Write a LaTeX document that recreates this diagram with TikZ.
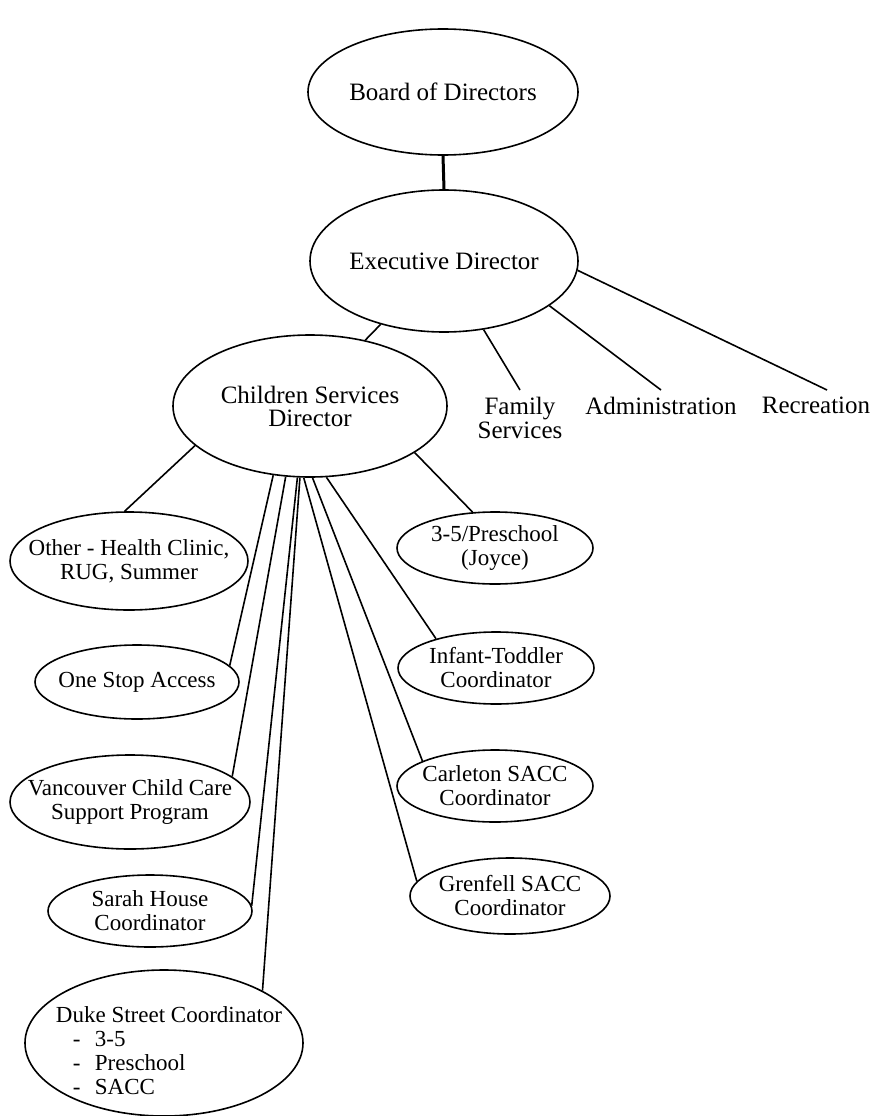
\documentclass[tikz,border=0pt]{standalone}
\usepackage{fontspec}
\setmainfont{Liberation Serif}
\usetikzlibrary{shapes.geometric}
\begin{document}
\begin{tikzpicture}[x=1pt,y=-1pt,
  oval/.style={ellipse,draw,line width=1.6pt,inner sep=0pt},
  big/.style={font=\fontsize{25}{23}\selectfont,align=center,inner sep=0pt},
  small/.style={font=\fontsize{23}{24}\selectfont,align=center,inner sep=0pt},
  link/.style={line width=1.6pt},
  unit/.style={font=\fontsize{25}{24}\selectfont,align=center,inner sep=0pt,outer sep=7pt,anchor=north}]
\useasboundingbox (0,0) rectangle (872,1116);
% top levels
\node[oval,minimum width=270pt,minimum height=126pt,label={[big]center:Board of Directors}] (board) at (443,92) {};
\node[oval,minimum width=268pt,minimum height=142pt,label={[big]center:Executive Director}] (exec) at (444,261) {};
\node[oval,minimum width=274pt,minimum height=142pt,label={[big]center:{Children Services\\Director}}] (csd) at (310,406) {};
% units under executive director
\node[unit] (fam) at (520,390) {Family\\Services};
\node[unit] (adm) at (661,390) {Administration};
\node[unit] (rec) at (816,390) {Recreation};
% programs
\node[oval,minimum width=238pt,minimum height=98pt,label={[small]center:{Other - Health Clinic,\\RUG, Summer}}] (other) at (129,561) {};
\node[oval,minimum width=204pt,minimum height=74pt,label={[small]center:One Stop Access}] (onestop) at (137,682) {};
\node[oval,minimum width=240pt,minimum height=94pt,label={[small]center:{Vancouver Child Care\\Support Program}}] (vanc) at (130,802) {};
\node[oval,minimum width=204pt,minimum height=72pt,label={[small]center:{Sarah House\\Coordinator}}] (sarah) at (150,911) {};
\node[oval,minimum width=278pt,minimum height=146pt,label={[small,align=left,xshift=5pt,yshift=-8pt]center:{Duke Street Coordinator\\\hspace*{17pt}\makebox[22pt][l]{-}3-5\\\hspace*{17pt}\makebox[22pt][l]{-}Preschool\\\hspace*{17pt}\makebox[22pt][l]{-}SACC}}] (duke) at (164,1043) {};
\node[oval,minimum width=196pt,minimum height=72pt,label={[small]center:{3-5/Preschool\\(Joyce)}}] (pre) at (495,548) {};
\node[oval,minimum width=196pt,minimum height=72pt,label={[small]center:{Infant-Toddler\\Coordinator}}] (inf) at (496,668) {};
\node[oval,minimum width=196pt,minimum height=72pt,label={[small]center:{Carleton SACC\\Coordinator}}] (carl) at (495,786) {};
\node[oval,minimum width=200pt,minimum height=76pt,label={[small]center:{Grenfell SACC\\Coordinator}}] (gren) at (510,896) {};
% connectors
\draw[line width=3pt] (board.south) -- (exec.north);
\draw[link] (exec.-135) -- (csd.50);
\draw[link] (exec.-60.5) -- (fam.north);
\draw[link] (exec.-23) -- (adm.north);
\draw[link] (exec.-4.7) -- ([xshift=11pt]rec.north);
\draw[link] (csd.-161.6) -- (other.95);
\draw[link] (csd.-24.7) -- (pre.122.6);
\draw[link] (csd.-118.2) -- (onestop.10);
\draw[link] (csd.-109.7) -- (vanc.14);
\draw[link] (csd.-100.4) -- (sarah.3.4);
\draw[link] (csd.-98) -- (duke.28.2);
\draw[link] (csd.-95.6) -- (gren.171.9);
\draw[link] (csd.-88.4) -- (carl.161.6);
\draw[link] (csd.-77.9) -- (inf.154.2);
\end{tikzpicture}
\end{document}
